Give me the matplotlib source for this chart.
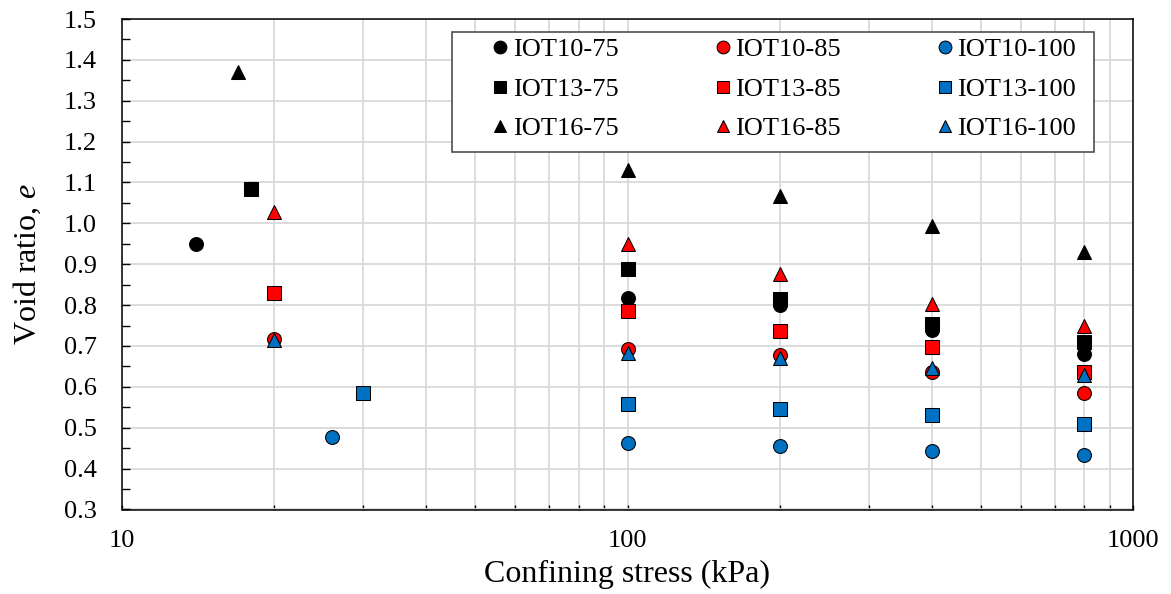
import numpy as np
import matplotlib.pyplot as plt
from matplotlib.ticker import FixedLocator, NullFormatter, MultipleLocator
from matplotlib.patches import Rectangle

plt.rcParams['font.family'] = ['Liberation Serif', 'DejaVu Serif']
plt.rcParams['mathtext.fontset'] = 'custom'
plt.rcParams['mathtext.rm'] = 'Liberation Serif'
plt.rcParams['mathtext.it'] = 'Liberation Serif:italic'

# esfuerzo de confinamiento (kPa) y relacion de vacios por ensayo
s_comun = [100, 200, 400, 800]

s_10_75 = [14] + s_comun
e_10_75 = [0.950, 0.818, 0.800, 0.738, 0.681]
s_10_85 = [20] + s_comun
e_10_85 = [0.717, 0.692, 0.677, 0.637, 0.586]
s_10_100 = [26] + s_comun
e_10_100 = [0.478, 0.463, 0.456, 0.442, 0.433]

s_13_75 = [18] + s_comun
e_13_75 = [1.083, 0.888, 0.814, 0.755, 0.710]
s_13_85 = [20] + s_comun
e_13_85 = [0.829, 0.786, 0.737, 0.698, 0.637]
s_13_100 = [30] + s_comun
e_13_100 = [0.584, 0.558, 0.545, 0.531, 0.509]

s_16_75 = [17] + s_comun
e_16_75 = [1.370, 1.130, 1.067, 0.993, 0.930]
s_16_85 = [20] + s_comun
e_16_85 = [1.028, 0.949, 0.876, 0.802, 0.749]
s_16_100 = [20] + s_comun
e_16_100 = [0.715, 0.683, 0.670, 0.645, 0.629]

rojo = '#FF0000'
azul = '#0070C0'

fig = plt.figure(figsize=(11.71, 5.94), dpi=100)
ax = fig.add_axes([122/1171, 1-509.5/594, (1133-122)/1171, (509.5-19)/594])

# orden por columnas para que la leyenda quede en filas 10/13/16
series = [
    (s_10_75, e_10_75, 'o', 'black', 'IOT10-75'),
    (s_13_75, e_13_75, 's', 'black', 'IOT13-75'),
    (s_16_75, e_16_75, '^', 'black', 'IOT16-75'),
    (s_10_85, e_10_85, 'o', rojo, 'IOT10-85'),
    (s_13_85, e_13_85, 's', rojo, 'IOT13-85'),
    (s_16_85, e_16_85, '^', rojo, 'IOT16-85'),
    (s_10_100, e_10_100, 'o', azul, 'IOT10-100'),
    (s_13_100, e_13_100, 's', azul, 'IOT13-100'),
    (s_16_100, e_16_100, '^', azul, 'IOT16-100'),
]
for s, e, m, c, nombre in series:
    ax.plot(s, e, linestyle='none', marker=m, markersize=10,
            markerfacecolor=c, markeredgecolor='black', markeredgewidth=0.75,
            label=nombre, zorder=3)

ax.set_xscale('log')
ax.set_xlim(10, 1000)
ax.set_ylim(0.3, 1.5)
ax.set_yticks(np.arange(0.3, 1.51, 0.1))
ax.set_yticklabels(['%.1f' % v for v in np.arange(0.3, 1.51, 0.1)])
ax.yaxis.set_minor_locator(MultipleLocator(0.05))
ax.set_xticks([10, 100, 1000])
ax.set_xticklabels(['10', '100', '1000'])
ax.xaxis.set_minor_locator(FixedLocator([k*d for d in (10, 100) for k in range(2, 10)]))
ax.xaxis.set_minor_formatter(NullFormatter())

ax.grid(True, which='major', color='#D9D9D9', linewidth=1.3, zorder=0)
ax.xaxis.grid(True, which='minor', color='#D9D9D9', linewidth=1.3, zorder=0)
ax.set_axisbelow(True)
ax.tick_params(which='both', direction='in', width=1.0, color='black')
ax.tick_params(axis='y', which='both', length=5.5, labelsize=19, pad=18)
ax.tick_params(axis='x', which='both', length=3.5, labelsize=19, pad=15)
for sp in ax.spines.values():
    sp.set_color('black')
    sp.set_linewidth(1.1)

ax.set_xlabel('Confining stress (kPa)', fontsize=23)
ax.xaxis.set_label_coords(0.5, -0.102)
ax.set_ylabel('Void ratio, $\\it{e}$', fontsize=23)
ax.yaxis.set_label_coords(-0.078, 0.5)

# recuadro de la leyenda
marco = Rectangle((452/1171, 1-152/594), 642/1171, 120/594, transform=fig.transFigure,
                  facecolor='white', edgecolor='#404040', linewidth=1.1, zorder=4, clip_on=False)
ax.add_patch(marco)

leg = ax.legend(ncol=3, loc='upper left', bbox_to_anchor=(491/1171, 1-38/594),
                bbox_transform=fig.transFigure, fontsize=19, frameon=False,
                handletextpad=0.12, columnspacing=3.6, borderpad=0, borderaxespad=0,
                labelspacing=0.6, handlelength=0.7, markerscale=0.92)
leg.set_zorder(5)

plt.savefig('out.png', dpi=100)
